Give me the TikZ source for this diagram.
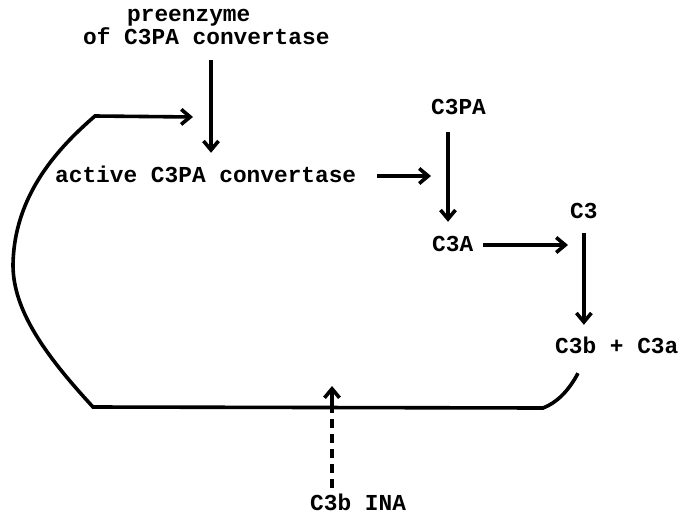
\documentclass[tikz,border=0pt]{standalone}
\usepackage{fontspec}
\setmonofont{Liberation Mono}
\usetikzlibrary{arrows.meta}
\tikzset{
  lbl/.style={anchor=west, inner sep=0pt, text height=16pt, text depth=4pt,
              font=\fontsize{22.8}{26}\selectfont\ttfamily\bfseries},
  arr/.style={line width=3.6pt, -{Straight Barb[length=9pt,width=15pt]}},
  ln/.style={line width=3.6pt},
  dsh/.style={line width=3.6pt, dash pattern=on 9pt off 6pt}
}
\begin{document}
\begin{tikzpicture}[x=1pt,y=-1pt]
\useasboundingbox (0,0) rectangle (679,514);
\node[lbl] (pre) at (127,15) {preenzyme};
\node[lbl] (conv) at (83,38) {of C3PA convertase};
\node[lbl] (active) at (55,176) {active C3PA convertase};
\node[lbl] (c3pa) at (431,108) {C3PA};
\node[lbl] (c3A) at (432,245) {C3A};
\node[lbl] (c3) at (570,212) {C3};
\node[lbl] (c3b) at (555,347) {C3b + C3a};
\node[lbl] (ina) at (310,504) {C3b INA};
\coordinate (loopend) at (193,117);
\coordinate (hit) at (332,407);
% main chain
\draw[arr, shorten <=12pt, shorten >=13pt] (211,0 |- conv.south) -- (211,0 |- active.north);
\draw[arr, shorten <=21pt] (active.east) -- (c3pa.west |- active.east);
\draw[arr, shorten <=14pt, shorten >=13pt] (448,0 |- c3pa.south) -- (448,0 |- c3A.north);
\draw[arr, shorten <=10pt, shorten >=2pt] (c3A.east) -- (c3.west |- c3A.east);
\draw[arr, shorten <=11pt, shorten >=12pt] (c3.south) -- (c3.south |- c3b.north);
% feedback loop
\draw[arr] ([xshift=23pt,yshift=-16pt]c3b.south west)
  .. controls (568,392) and (556,403) .. (543,408)
  -- (93,407)
  .. controls (45,355) and (13,310) .. (13,265)
  .. controls (14,195) and (58,148) .. (95,116)
  -- (loopend);
% inhibitor
\draw[dsh, shorten <=6pt] (332,0 |- ina.north) -- (hit);
\draw[arr] (hit) -- ++(0,-21);
\end{tikzpicture}
\end{document}
